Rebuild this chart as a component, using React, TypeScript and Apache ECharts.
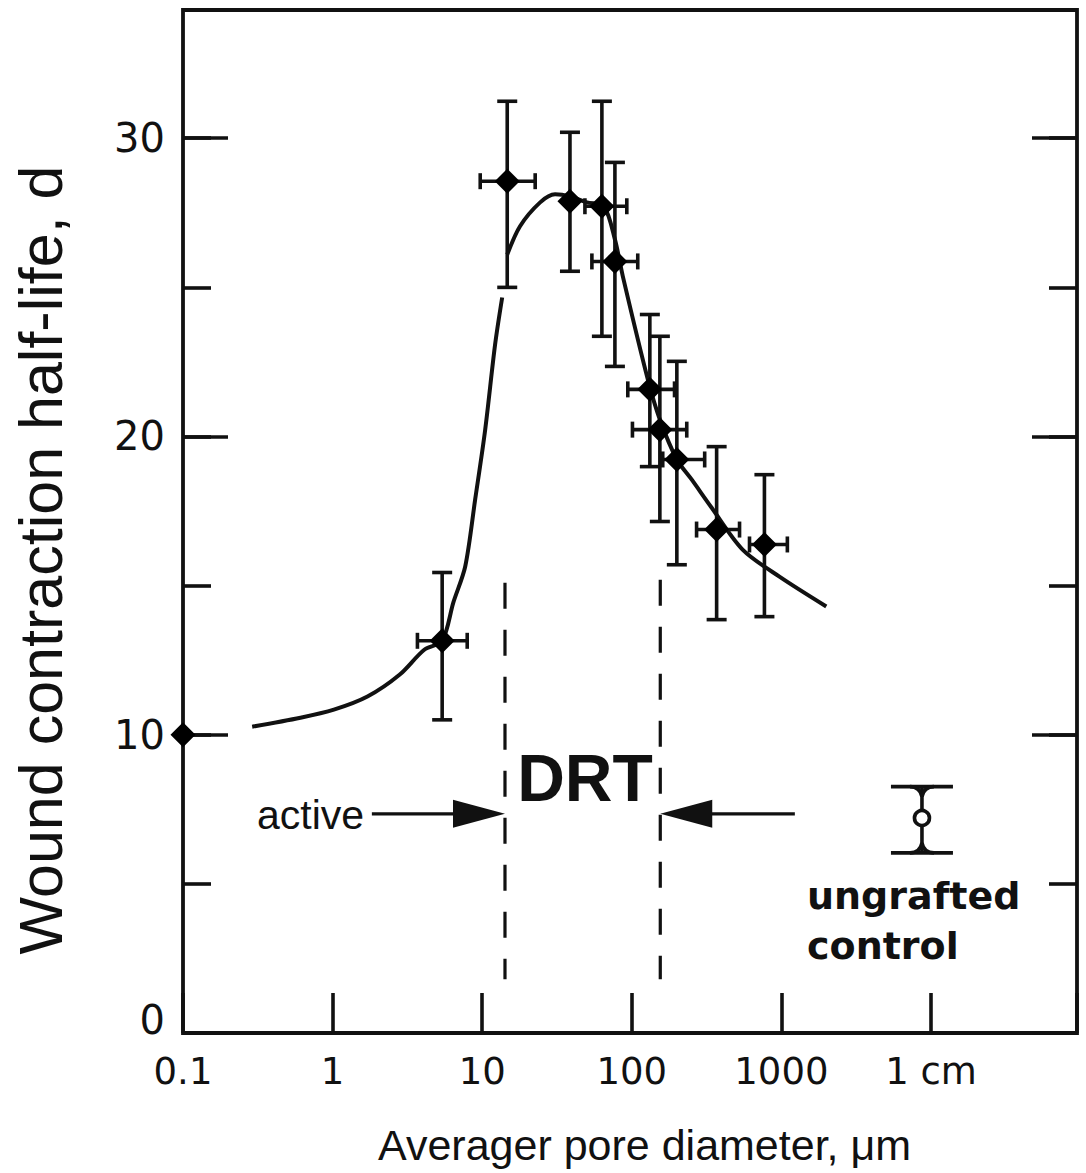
import React, { useEffect, useRef } from 'react';
import * as echarts from 'echarts';

// ---- Data ----
// Measured points (pore diameter in µm, half-life in days)
const pointX = [0.1, 5.4, 14.7, 38.6, 63.1, 77.1, 132, 154, 200, 369, 770];
const pointY = [10.0, 13.15, 28.56, 27.89, 27.72, 25.87, 21.58, 20.23, 19.23, 16.88, 16.38];
const errYLow = [null, 10.5, 25.0, 25.54, 23.36, 22.35, 18.99, 17.15, 15.7, 13.86, 13.96];
const errYHigh = [null, 15.44, 31.24, 30.2, 31.24, 29.19, 24.09, 23.36, 22.52, 19.66, 18.72];
const errXLow = [null, 3.69, 9.7, null, 48.6, 54.1, 94, 101, 161, 271, 612];
const errXHigh = [null, 7.94, 22.6, null, 92.6, 109.6, 193, 233, 307, 525, 1096];

// Fitted curve (two drawn pieces)
const curveAX = [0.29, 0.61, 1.02, 1.71, 2.8, 4.1, 5.4, 6.41, 7.7, 8.98, 10.47, 12.2, 13.6];
const curveAY = [10.27, 10.57, 10.84, 11.28, 12.01, 12.85, 13.15, 14.43, 15.64, 17.9, 20.23, 23.09, 24.66];
const curveBX = [14.7, 17.9, 24.4, 30.7, 38.6, 50.1, 65, 77.1, 87.1, 128, 154, 200, 251, 341, 550, 970, 1995];
const curveBY = [26.1, 27.05, 27.85, 28.12, 28.05, 27.85, 27.72, 26.61, 25.37, 21.91, 20.57, 19.23, 18.56, 17.62, 16.21, 15.3, 14.3];

// Ungrafted control
const controlX = [8700];
const controlY = [7.21];
const controlLow = [6.04];
const controlHigh = [8.26];

// DRT window
const drtX = [14.2, 155];
const drtYTop = [15.1, 15.2];
const drtYBottom = [1.8, 1.8];

// Arrows (from, to, level)
const arrowFrom = [1.83, 1230];
const arrowTo = [14.2, 155];
const arrowY = [7.35, 7.35];

// Axis ticks
const xTickValues = [0.1, 1, 10, 100, 1000, 10000];
const xTickLabels = ['0.1', '1', '10', '100', '1000', '1 cm'];
const yTickValues = [0, 10, 20, 30];
const yTickLabels = ['0', '10', '20', '30'];

const INK = '#111';

export default function App() {
  const ref = useRef<HTMLDivElement>(null);

  useEffect(() => {
    document.body.style.margin = '0';
    const chart = echarts.init(ref.current as HTMLDivElement, null, { renderer: 'svg' });

    const xFormatter = (v: number) => {
      for (let i = 0; i < xTickValues.length; i++) {
        if (Math.abs(Math.log10(v) - Math.log10(xTickValues[i])) < 1e-6) return xTickLabels[i];
      }
      return '';
    };
    const yFormatter = (v: number) => {
      for (let i = 0; i < yTickValues.length; i++) {
        if (Math.abs(v - yTickValues[i]) < 1e-6) {
          return v === 0 ? '{z|' + yTickLabels[i] + '}' : yTickLabels[i];
        }
      }
      return '';
    };

    const yBase = { type: 'value', min: 0, max: 34.3, axisLine: { show: false }, splitLine: { show: false } };
    const lineW = 3.6;

    const option: any = {
      animation: false,
      backgroundColor: '#fff',
      grid: {
        left: 183, top: 10, width: 894, height: 1023,
        show: true, borderColor: INK, borderWidth: 3.8, backgroundColor: 'transparent',
        outerBoundsMode: 'none',
      },
      xAxis: {
        type: 'log', logBase: 10, min: 0.1, max: 94600,
        axisLine: { show: false },
        splitLine: { show: false },
        axisTick: { show: true, inside: true, length: 40, lineStyle: { color: INK, width: lineW } },
        axisLabel: { formatter: xFormatter, fontSize: 37, fontFamily: 'DejaVu Sans', color: INK, margin: 20 },
      },
      yAxis: [
        {
          ...yBase, position: 'left', interval: 5,
          axisTick: { show: true, inside: true, length: 28, lineStyle: { color: INK, width: lineW } },
          axisLabel: {
            formatter: yFormatter, fontSize: 40, fontFamily: 'DejaVu Sans', color: INK, margin: 18,
            rich: { z: { fontSize: 40, fontFamily: 'DejaVu Sans', color: INK, padding: [0, 0, 26, 0] } },
          },
        },
        {
          ...yBase, position: 'left', interval: 10,
          axisTick: { show: true, inside: true, length: 45, lineStyle: { color: INK, width: lineW } },
          axisLabel: { show: false },
        },
        {
          ...yBase, position: 'right', interval: 5,
          axisTick: { show: true, inside: true, length: 28, lineStyle: { color: INK, width: lineW } },
          axisLabel: { show: false },
        },
        {
          ...yBase, position: 'right', interval: 10,
          axisTick: { show: true, inside: true, length: 45, lineStyle: { color: INK, width: lineW } },
          axisLabel: { show: false },
        },
      ],
      series: [
        {
          type: 'line', silent: true, showSymbol: false, smooth: 0.3,
          data: curveAX.map((x, i) => [x, curveAY[i]]),
          lineStyle: { color: INK, width: 4 }, z: 2,
        },
        {
          type: 'line', silent: true, showSymbol: false, smooth: 0.3,
          data: curveBX.map((x, i) => [x, curveBY[i]]),
          lineStyle: { color: INK, width: 4 }, z: 2,
        },
        ...drtX.map((x, i) => ({
          type: 'line', silent: true, showSymbol: false,
          data: [[x, drtYTop[i]], [x, drtYBottom[i]]],
          lineStyle: { color: INK, width: 3.2, type: [26, 21] }, z: 2,
        })),
        {
          type: 'custom', silent: true, z: 3,
          data: pointX.map((x, i) => [x, pointY[i]]),
          renderItem: (params: any, api: any) => {
            const i = params.dataIndex;
            const children: any[] = [];
            const st = { stroke: INK, lineWidth: lineW };
            const c = api.coord([pointX[i], pointY[i]]);
            if (errYLow[i] != null && errYHigh[i] != null) {
              const t = api.coord([pointX[i], errYHigh[i]]);
              const b = api.coord([pointX[i], errYLow[i]]);
              children.push({ type: 'line', shape: { x1: c[0], y1: t[1], x2: c[0], y2: b[1] }, style: st });
              children.push({ type: 'line', shape: { x1: c[0] - 10, y1: t[1], x2: c[0] + 10, y2: t[1] }, style: st });
              children.push({ type: 'line', shape: { x1: c[0] - 10, y1: b[1], x2: c[0] + 10, y2: b[1] }, style: st });
            }
            if (errXLow[i] != null && errXHigh[i] != null) {
              const l = api.coord([errXLow[i], pointY[i]]);
              const r = api.coord([errXHigh[i], pointY[i]]);
              children.push({ type: 'line', shape: { x1: l[0], y1: c[1], x2: r[0], y2: c[1] }, style: st });
              children.push({ type: 'line', shape: { x1: l[0], y1: c[1] - 8, x2: l[0], y2: c[1] + 8 }, style: st });
              children.push({ type: 'line', shape: { x1: r[0], y1: c[1] - 8, x2: r[0], y2: c[1] + 8 }, style: st });
            }
            return { type: 'group', children };
          },
        },
        {
          type: 'scatter', silent: true, z: 4,
          data: pointX.map((x, i) => [x, pointY[i]]),
          symbol: 'diamond', symbolSize: [25, 25],
          itemStyle: { color: '#000', opacity: 1 },
        },
        {
          type: 'custom', silent: true, z: 4,
          data: controlX.map((x, i) => [x, controlY[i]]),
          renderItem: (params: any, api: any) => {
            const i = params.dataIndex;
            const c = api.coord([controlX[i], controlY[i]]);
            const t = api.coord([controlX[i], controlHigh[i]]);
            const b = api.coord([controlX[i], controlLow[i]]);
            const st = { stroke: INK, lineWidth: lineW, fill: null };
            const cx = c[0];
            return {
              type: 'group',
              children: [
                { type: 'line', shape: { x1: cx, y1: t[1], x2: cx, y2: b[1] }, style: st },
                { type: 'line', shape: { x1: cx - 31, y1: t[1], x2: cx + 31, y2: t[1] }, style: st },
                { type: 'line', shape: { x1: cx - 31, y1: b[1], x2: cx + 31, y2: b[1] }, style: st },
                { type: 'bezierCurve', shape: { x1: cx - 12, y1: t[1], x2: cx, y2: t[1] + 10, cpx1: cx - 2, cpy1: t[1] }, style: st },
                { type: 'bezierCurve', shape: { x1: cx + 12, y1: t[1], x2: cx, y2: t[1] + 10, cpx1: cx + 2, cpy1: t[1] }, style: st },
                { type: 'bezierCurve', shape: { x1: cx - 12, y1: b[1], x2: cx, y2: b[1] - 10, cpx1: cx - 2, cpy1: b[1] }, style: st },
                { type: 'bezierCurve', shape: { x1: cx + 12, y1: b[1], x2: cx, y2: b[1] - 10, cpx1: cx + 2, cpy1: b[1] }, style: st },
                { type: 'circle', shape: { cx, cy: c[1], r: 7.5 }, style: { stroke: INK, lineWidth: lineW, fill: '#fff' } },
              ],
            };
          },
        },
        {
          type: 'custom', silent: true, z: 4,
          data: arrowFrom.map((x, i) => [x, arrowY[i], arrowTo[i]]),
          renderItem: (params: any, api: any) => {
            const i = params.dataIndex;
            const p1 = api.coord([arrowFrom[i], arrowY[i]]);
            const p2 = api.coord([arrowTo[i], arrowY[i]]);
            const dir = p2[0] > p1[0] ? 1 : -1;
            const headLen = 52;
            const half = 14;
            return {
              type: 'group',
              children: [
                { type: 'line', shape: { x1: p1[0], y1: p1[1], x2: p2[0] - dir * (headLen - 4), y2: p2[1] }, style: { stroke: INK, lineWidth: 3.2 } },
                {
                  type: 'polygon',
                  shape: { points: [[p2[0], p2[1]], [p2[0] - dir * headLen, p2[1] - half], [p2[0] - dir * headLen, p2[1] + half]] },
                  style: { fill: INK },
                },
              ],
            };
          },
        },
      ],
      graphic: [
        {
          type: 'text', x: 41, y: 560, rotation: Math.PI / 2, silent: true,
          style: { text: 'Wound contraction half-life, d', fontSize: 61, fontFamily: 'Liberation Sans', fill: INK, align: 'center', verticalAlign: 'middle' },
        },
        {
          type: 'text', x: 378, y: 1145, silent: true,
          style: { text: 'Averager pore diameter, μm', fontSize: 43, fontFamily: 'Liberation Sans', fill: INK, align: 'left', verticalAlign: 'middle' },
        },
        {
          type: 'text', x: 585, y: 778, silent: true,
          style: { text: 'DRT', fontSize: 66, fontWeight: 'bold', fontFamily: 'Liberation Sans', fill: INK, align: 'center', verticalAlign: 'middle' },
        },
        {
          type: 'text', x: 257, y: 815, silent: true,
          style: { text: 'active', fontSize: 41, fontFamily: 'Liberation Sans', fill: INK, align: 'left', verticalAlign: 'middle' },
        },
        {
          type: 'text', x: 807, y: 896, silent: true,
          style: { text: 'ungrafted', fontSize: 38, fontWeight: 'bold', fontFamily: 'DejaVu Sans', fill: INK, align: 'left', verticalAlign: 'middle' },
        },
        {
          type: 'text', x: 807, y: 946, silent: true,
          style: { text: 'control', fontSize: 38, fontWeight: 'bold', fontFamily: 'DejaVu Sans', fill: INK, align: 'left', verticalAlign: 'middle' },
        },
      ],
    };

    chart.setOption(option);
    return () => chart.dispose();
  }, []);

  return (
    <div
      ref={ref}
      style={{ position: 'absolute', left: 0, top: 0, width: 1086, height: 1173, background: '#fff' }}
    />
  );
}
